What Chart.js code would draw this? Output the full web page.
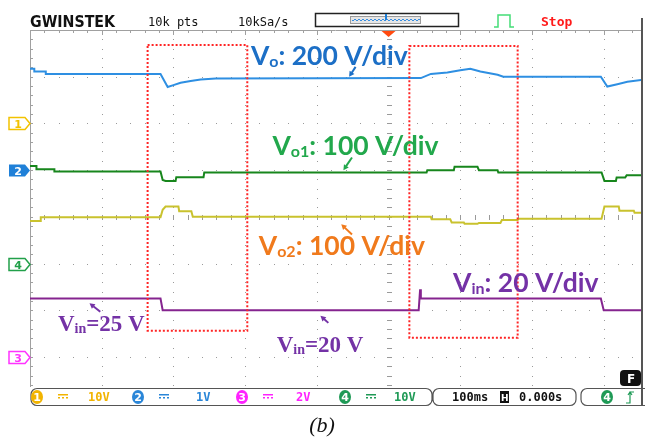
<!DOCTYPE html>
<html>
<head>
<meta charset="utf-8">
<script src="https://cdn.jsdelivr.net/npm/chart.js@4/dist/chart.umd.min.js"></script>
<style>
  html, body { margin: 0; padding: 0; background: #fff; }
  canvas { display: block; }
</style>
</head>
<body>
<canvas id="scope" width="645" height="438"></canvas>
<script>
// time axis in ms (100 ms/div, trigger at 0), vertical in screen divisions
const voT   = [-500,-494,-494,-478,-478,-318,-308,-300,-290,-276,-262,-241,45,59,82,100,114,128,152,160,296,305,319,333,353];
const voDiv = [3.17,3.17,3.11,3.11,3.06,3.06,2.78,2.82,2.87,2.91,2.94,2.96,2.97,3.06,3.09,3.14,3.17,3.11,3.04,3.00,3.00,2.79,2.84,2.89,2.93];

const vo1T   = [-500,-491,-491,-466,-466,-318,-315,-311,-297,-296,-258,-257,53,54,91,92,124,126,152,153,297,301,317,318,330,332,353];
const vo1Div = [1.09,1.09,1.02,1.02,0.97,0.97,0.79,0.77,0.77,0.85,0.85,0.95,0.95,1.00,1.00,1.07,1.07,1.00,1.00,0.95,0.95,0.77,0.77,0.84,0.84,0.89,0.89];

const vo2T   = [-500,-485,-485,-318,-315,-311,-293,-292,-275,-273,59,60,86,88,105,106,124,126,156,158,180,181,297,301,321,322,342,343,353];
const vo2Div = [-0.09,-0.09,-0.01,-0.01,0.15,0.22,0.22,0.12,0.12,0.00,0.00,-0.05,-0.05,-0.12,-0.12,-0.15,-0.15,-0.13,-0.13,-0.07,-0.07,-0.04,-0.04,0.22,0.22,0.13,0.13,0.09,0.09];

// input voltage in volts, 20 V/div, ground on marker 3
const vinT     = [-500,-318,-315,42,44,45,296,300,353];
const vinVolts = [25,25,20,20,29,25,25,20,20];
const VIN_PER_DIV = 20;
const VIN_GROUND = -3;

const channelMarks = [
  { num: '1', level: 2,  color: '#f2c200', filled: false },
  { num: '2', level: 1,  color: '#1f80d8', filled: true },
  { num: '4', level: -1, color: '#22a04a', filled: false },
  { num: '3', level: -3, color: '#ff33ff', filled: false }
];

const zoomBoxes = [
  { t0: -336, t1: -197, top: 3.68, bottom: -2.44 },
  { t0: 29, t1: 180, top: 3.66, bottom: -2.59 }
];

const SUB = true;
const notes = [
  { t: -192, y: 3.25, color: '#1c6fc6', font: 'Lato', size: 26.5, parts: [['V'], ['o', SUB], [': 200 V/div']] },
  { t: -162, y: 1.32, color: '#22a84c', font: 'Lato', size: 26.5, parts: [['V'], ['o1', SUB], [': 100 V/div']] },
  { t: -181, y: -0.82, color: '#f07a1c', font: 'Lato', size: 26.5, parts: [['V'], ['o2', SUB], [': 100 V/div']] },
  { t: 90, y: -1.60, color: '#7432a6', font: 'Lato', size: 26.5, parts: [['V'], ['in', SUB], [': 20 V/div']] },
  { t: -461, y: -2.44, color: '#7432a6', font: 'Liberation Serif', size: 23, parts: [['V'], ['in', SUB], ['=25 V']] },
  { t: -156, y: -2.90, color: '#7432a6', font: 'Liberation Serif', size: 23, parts: [['V'], ['in', SUB], ['=20 V']] }
];

const arrows = [
  { from: [-46, 3.21], to: [-55, 3.00], color: '#1c6fc6' },
  { from: [-51, 1.27], to: [-63, 1.00], color: '#22a84c' },
  { from: [-51, -0.38], to: [-66, -0.16], color: '#f07a1c' },
  { from: [-402, -2.03], to: [-417, -1.85], color: '#7432a6' },
  { from: [-84, -2.27], to: [-95, -2.12], color: '#7432a6' }
];

function pts(ts, ys) {
  return ts.map((t, i) => ({ x: t, y: ys[i] }));
}

const vinDiv = vinVolts.map(v => VIN_GROUND + v / VIN_PER_DIV);

// dotted graticule, ruler and center ticks
const graticule = {
  id: 'graticule',
  beforeDatasetsDraw(chart) {
    const { ctx, chartArea: a } = chart;
    const xs = chart.scales.x, ys = chart.scales.y;
    ctx.save();
    ctx.fillStyle = '#9a9a9a';
    for (let d = -4; d <= 3; d++) {
      const px = Math.round(xs.getPixelForValue(d * 100));
      for (let k = -18; k <= 20; k++) {
        const py = Math.round(ys.getPixelForValue(k * 0.2));
        if (d === 0) ctx.fillRect(px - 2, py, 5, 1);
        else ctx.fillRect(px, py, 1, 1);
      }
    }
    for (let r = -3; r <= 3; r++) {
      const py = Math.round(ys.getPixelForValue(r));
      for (let k = -25; k <= 17; k++) {
        const px = Math.round(xs.getPixelForValue(k * 20));
        if (r === 0) ctx.fillRect(px, py - 2, 1, 5);
        else ctx.fillRect(px, py, 1, 1);
      }
    }
    // left border with minor ticks
    ctx.strokeStyle = '#a0a0a0';
    ctx.lineWidth = 1;
    ctx.beginPath();
    ctx.moveTo(a.left + 0.5, a.top);
    ctx.lineTo(a.left + 0.5, a.bottom + 2);
    ctx.moveTo(a.left, a.top + 0.5);
    ctx.lineTo(a.right, a.top + 0.5);
    ctx.stroke();
    ctx.fillStyle = '#a0a0a0';
    for (let k = -18; k <= 20; k++) {
      const py = Math.round(ys.getPixelForValue(k * 0.2));
      ctx.fillRect(a.left, py, 3, 1);
    }
    for (let k = -25; k <= 17; k++) {
      const px = Math.round(xs.getPixelForValue(k * 20));
      ctx.fillRect(px, a.top, 1, k % 5 === 0 ? 5 : 3);
    }
    ctx.restore();
  }
};

function drawArrow(ctx, x0, y0, x1, y1, color) {
  const ang = Math.atan2(y1 - y0, x1 - x0);
  const h = 6;
  ctx.strokeStyle = color;
  ctx.fillStyle = color;
  ctx.lineWidth = 2;
  ctx.beginPath();
  ctx.moveTo(x0, y0);
  ctx.lineTo(x1 - Math.cos(ang) * h * 0.8, y1 - Math.sin(ang) * h * 0.8);
  ctx.stroke();
  ctx.beginPath();
  ctx.moveTo(x1, y1);
  ctx.lineTo(x1 - h * Math.cos(ang - 0.5), y1 - h * Math.sin(ang - 0.5));
  ctx.lineTo(x1 - h * Math.cos(ang + 0.5), y1 - h * Math.sin(ang + 0.5));
  ctx.closePath();
  ctx.fill();
}

// red zoom boxes, channel notes and arrows
const notesPlugin = {
  id: 'notes',
  afterDatasetsDraw(chart) {
    const { ctx } = chart;
    const xs = chart.scales.x, ys = chart.scales.y;
    ctx.save();
    ctx.strokeStyle = '#ff2424';
    ctx.lineWidth = 2;
    ctx.setLineDash([2, 2]);
    zoomBoxes.forEach(b => {
      const x0 = xs.getPixelForValue(b.t0), x1 = xs.getPixelForValue(b.t1);
      const y0 = ys.getPixelForValue(b.top), y1 = ys.getPixelForValue(b.bottom);
      ctx.strokeRect(x0, y0, x1 - x0, y1 - y0);
    });
    ctx.setLineDash([]);

    ctx.textBaseline = 'alphabetic';
    notes.forEach(n => {
      let x = xs.getPixelForValue(n.t);
      const y = ys.getPixelForValue(n.y);
      ctx.fillStyle = n.color;
      n.parts.forEach(([txt, sub]) => {
        const size = sub ? Math.round(n.size * 0.6) : n.size;
        ctx.font = 'bold ' + size + 'px "' + n.font + '"';
        ctx.fillText(txt, x, y + (sub ? 2 : 0));
        x += ctx.measureText(txt).width;
      });
    });

    arrows.forEach(a => {
      drawArrow(ctx,
        xs.getPixelForValue(a.from[0]), ys.getPixelForValue(a.from[1]),
        xs.getPixelForValue(a.to[0]), ys.getPixelForValue(a.to[1]), a.color);
    });
    ctx.restore();
  }
};

function badge(ctx, x, y, num, color) {
  ctx.fillStyle = color;
  ctx.beginPath();
  ctx.ellipse(x, y, 6, 7, 0, 0, Math.PI * 2);
  ctx.fill();
  ctx.fillStyle = '#fff';
  ctx.font = 'bold 11px "DejaVu Sans"';
  ctx.textAlign = 'center';
  ctx.fillText(num, x, y + 4);
  ctx.textAlign = 'left';
}

function dcMark(ctx, x, y, color) {
  ctx.fillStyle = color;
  ctx.fillRect(x, y, 10, 1.5);
  for (let i = 0; i < 3; i++) ctx.fillRect(x + i * 4, y + 3, 2, 1.5);
}

// scope frame: top status line, channel markers, bottom info bar
const frame = {
  id: 'frame',
  afterDraw(chart) {
    const { ctx, chartArea: a } = chart;
    const ys = chart.scales.y, xs = chart.scales.x;
    ctx.save();
    ctx.textBaseline = 'alphabetic';

    // logo and acquisition info
    ctx.fillStyle = '#111';
    ctx.font = 'bold 16px "DejaVu Sans"';
    const logo = 'GWINSTEK';
    const lw = ctx.measureText(logo).width;
    ctx.save();
    ctx.translate(30, 27);
    ctx.scale(85 / lw, 1);
    ctx.fillText(logo, 0, 0);
    ctx.restore();
    ctx.font = '12px "DejaVu Sans Mono"';
    ctx.fillText('10k pts', 148, 26);
    ctx.fillText('10kSa/s', 238, 26);

    // memory bar
    ctx.strokeStyle = '#222';
    ctx.lineWidth = 1.5;
    ctx.strokeRect(315.5, 13.5, 143, 13);
    ctx.fillStyle = '#e6e6e6';
    ctx.fillRect(350, 16, 71, 8);
    ctx.strokeStyle = '#9a9a9a';
    ctx.lineWidth = 1;
    ctx.strokeRect(350.5, 16.5, 70, 7);
    ctx.strokeStyle = '#3a8ee0';
    ctx.beginPath();
    for (let x = 352; x < 419; x += 4) {
      ctx.moveTo(x, 20);
      ctx.quadraticCurveTo(x + 1, 22, x + 2, 20);
      ctx.quadraticCurveTo(x + 3, 18, x + 4, 20);
    }
    ctx.stroke();
    ctx.fillStyle = '#1f80d8';
    ctx.fillRect(385, 14, 2, 6);

    // trigger level icon and run state
    ctx.strokeStyle = '#44dd77';
    ctx.lineWidth = 1.5;
    ctx.beginPath();
    ctx.moveTo(494, 27);
    ctx.lineTo(498, 27);
    ctx.lineTo(498, 15);
    ctx.lineTo(510, 15);
    ctx.lineTo(510, 27);
    ctx.lineTo(514, 27);
    ctx.stroke();
    ctx.fillStyle = '#ff1a1a';
    ctx.font = 'bold 13px "DejaVu Sans Mono"';
    ctx.fillText('Stop', 541, 26);

    // trigger position
    const tx = xs.getPixelForValue(0);
    ctx.fillStyle = '#ff4a10';
    ctx.beginPath();
    ctx.moveTo(tx - 7, a.top + 1);
    ctx.lineTo(tx + 7, a.top + 1);
    ctx.lineTo(tx, a.top + 7);
    ctx.closePath();
    ctx.fill();

    // channel ground markers
    channelMarks.forEach(m => {
      const y = Math.round(ys.getPixelForValue(m.level)) + 0.5;
      ctx.beginPath();
      ctx.moveTo(9, y - 6);
      ctx.lineTo(25, y - 6);
      ctx.lineTo(30, y);
      ctx.lineTo(25, y + 6);
      ctx.lineTo(9, y + 6);
      ctx.closePath();
      ctx.lineWidth = 1.5;
      ctx.strokeStyle = m.color;
      if (m.filled) {
        ctx.fillStyle = m.color;
        ctx.fill();
      } else {
        ctx.fillStyle = '#fff';
        ctx.fill();
        ctx.stroke();
      }
      ctx.fillStyle = m.filled ? '#fff' : m.color;
      ctx.font = 'bold 11px "DejaVu Sans"';
      ctx.textAlign = 'center';
      ctx.fillText(m.num, 18, y + 4);
      ctx.textAlign = 'left';
    });

    // right frame edge
    ctx.fillStyle = '#555';
    ctx.fillRect(641, 18, 2, 387);

    // F badge
    ctx.fillStyle = '#111';
    ctx.beginPath();
    ctx.roundRect(620, 370, 21, 16, 4);
    ctx.fill();
    ctx.fillStyle = '#fff';
    ctx.font = 'bold 12px "DejaVu Sans"';
    ctx.fillText('F', 627, 383);

    // bottom info bar
    ctx.strokeStyle = '#555';
    ctx.lineWidth = 1.2;
    ctx.beginPath();
    ctx.roundRect(31, 388.5, 401, 17, 6);
    ctx.roundRect(433, 388.5, 143, 17, 6);
    ctx.roundRect(581, 388.5, 80, 17, 6);
    ctx.stroke();

    const chans = [
      { n: '1', x: 37, color: '#f2b400', volts: '10V', vx: 88 },
      { n: '2', x: 138, color: '#2a86d8', volts: '1V', vx: 196 },
      { n: '3', x: 242, color: '#ff22ff', volts: '2V', vx: 296 },
      { n: '4', x: 345, color: '#1f9a56', volts: '10V', vx: 394 }
    ];
    chans.forEach(c => {
      badge(ctx, c.x, 397, c.n, c.color);
      dcMark(ctx, c.x + 21, 394, c.color);
      ctx.fillStyle = c.color;
      ctx.font = 'bold 12px "DejaVu Sans Mono"';
      ctx.fillText(c.volts, c.vx, 401);
    });
    ctx.fillStyle = '#111';
    ctx.font = 'bold 12px "DejaVu Sans Mono"';
    ctx.fillText('100ms', 452, 401);
    ctx.fillRect(500, 391, 9, 12);
    ctx.fillStyle = '#fff';
    ctx.font = 'bold 9px "DejaVu Sans"';
    ctx.fillText('H', 501, 401);
    ctx.fillStyle = '#111';
    ctx.font = 'bold 12px "DejaVu Sans Mono"';
    ctx.fillText('0.000s', 519, 401);
    badge(ctx, 607, 397, '4', '#1f9a56');
    ctx.strokeStyle = '#1f9a56';
    ctx.lineWidth = 1.2;
    ctx.beginPath();
    ctx.moveTo(626, 403);
    ctx.lineTo(630, 403);
    ctx.lineTo(630, 392);
    ctx.lineTo(634, 392);
    ctx.moveTo(628, 395);
    ctx.lineTo(630, 392);
    ctx.lineTo(632, 395);
    ctx.stroke();

    // figure caption
    ctx.fillStyle = '#111';
    ctx.font = 'italic 22px "Liberation Serif"';
    ctx.textAlign = 'center';
    ctx.fillText('(b)', 322, 432);
    ctx.restore();
  }
};

const line = (data, color) => ({
  data, borderColor: color, borderWidth: 2, pointRadius: 0, tension: 0, fill: false
});

new Chart(document.getElementById('scope'), {
  type: 'line',
  data: {
    datasets: [
      line(pts(voT, voDiv), '#2e8fe2'),
      line(pts(vo1T, vo1Div), '#17861c'),
      line(pts(vo2T, vo2Div), '#c9c22e'),
      line(pts(vinT, vinDiv), '#85248f')
    ]
  },
  options: {
    responsive: false,
    animation: false,
    devicePixelRatio: 1,
    layout: { padding: { left: 30, right: 4, top: 30, bottom: 53 } },
    scales: {
      x: { type: 'linear', min: -500, max: 352, display: false },
      y: { type: 'linear', min: -3.6, max: 4, display: false }
    },
    plugins: { legend: { display: false }, tooltip: { enabled: false } }
  },
  plugins: [graticule, notesPlugin, frame]
});
</script>
</body>
</html>
